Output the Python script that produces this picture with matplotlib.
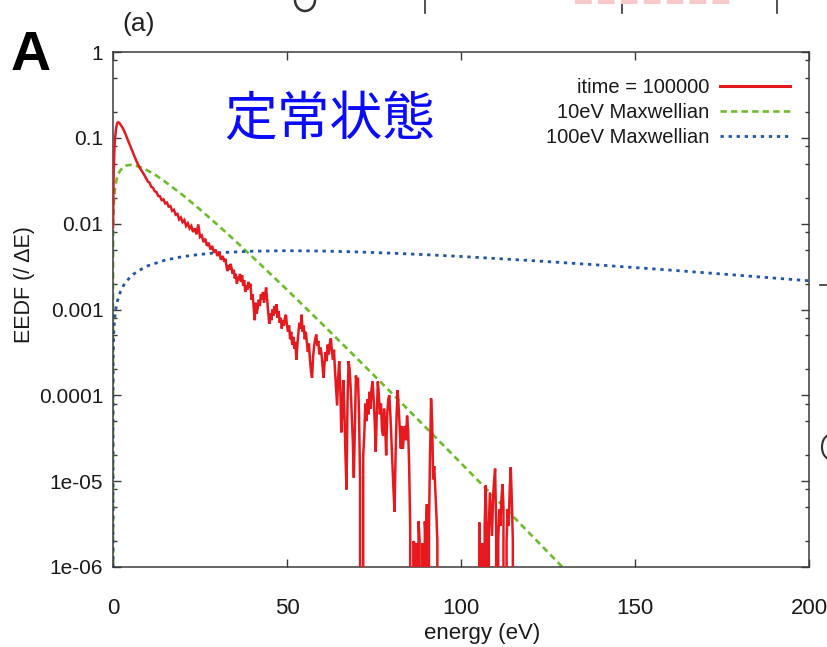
import matplotlib
matplotlib.use("Agg")
import matplotlib.pyplot as plt
from matplotlib.lines import Line2D
from matplotlib.patches import Arc
from matplotlib.ticker import LogLocator, NullFormatter, NullLocator, FixedLocator, FixedFormatter

# ---------------- data ----------------
x_ticks = [0, 50, 100, 150, 200]
x_tick_labels = ["0", "50", "100", "150", "200"]
y_ticks = [1, 0.1, 0.01, 0.001, 0.0001, 1e-05, 1e-06]
y_tick_labels = ["1", "0.1", "0.01", "0.001", "0.0001", "1e-05", "1e-06"]

legend_labels = ["itime = 100000", "10eV Maxwellian", "100eV Maxwellian"]

# simulated EEDF (itime = 100000); 0 = empty bin
red_energy = [
    0.0, 0.2, 0.4, 0.6, 0.9, 1.2, 1.5, 1.9, 2.3, 2.8,
    3.3, 3.8, 4.3, 4.8, 5.3, 5.8, 6.3, 6.8, 7.3, 7.8,
    8.3, 8.8, 9.3, 9.8,
    10.0, 10.5, 11.0, 11.5, 12.0, 12.5, 13.0, 13.5, 14.0, 14.5,
    15.0, 15.5, 16.0, 16.5, 17.0, 17.5, 18.0, 18.5, 19.0, 19.5,
    20.0, 20.5, 21.0, 21.5, 22.0, 22.5, 23.0, 23.5, 24.0, 24.5,
    25.0, 25.5, 26.0, 26.5, 27.0, 27.5, 28.0, 28.5, 29.0, 29.5,
    30.0, 30.5, 31.0, 31.5,
    32.0, 32.3, 32.6, 32.9, 33.2, 33.5, 33.8, 34.1, 34.4, 34.7,
    35.0, 35.3, 35.6, 35.9, 36.2, 36.5, 36.8, 37.1, 37.4, 37.7,
    38.0, 38.3, 38.6, 38.9, 39.2, 39.5, 39.8, 40.1, 40.4, 40.7,
    41.0, 41.3, 41.6, 41.9, 42.2, 42.5, 42.8, 43.1, 43.4, 43.7,
    44.0, 44.3, 44.6, 44.9, 45.2, 45.5, 45.8, 46.1, 46.4, 46.7,
    47.0, 47.3, 47.6, 47.9, 48.2, 48.5, 48.8, 49.1, 49.4, 49.7,
    50.0, 50.3, 50.6, 50.9, 51.2, 51.5, 51.8, 52.1, 52.4, 52.7,
    53.0, 53.3, 53.6, 53.9, 54.2, 54.5, 54.8, 55.1, 55.4, 55.7,
    56.0, 56.3, 56.6, 56.9, 57.2, 57.5, 57.8, 58.1, 58.4, 58.7,
    59.0, 59.3, 59.6, 59.9, 60.2, 60.5, 60.8, 61.1, 61.4, 61.7,
    62.0, 62.3, 62.6, 62.9, 63.2, 63.5, 63.8, 64.1, 64.4, 64.7,
    65.0, 65.3, 65.6, 65.9, 66.2, 66.5, 66.8, 67.1, 67.4, 67.7,
    68.0, 68.3, 68.6, 68.9, 69.2, 69.5, 69.8, 70.1, 70.4, 70.7,
    71.0, 71.3, 71.6, 71.9, 72.2, 72.5, 72.8, 73.1, 73.4, 73.7,
    74.0, 74.3, 74.6, 74.9, 75.2, 75.5, 75.8, 76.1, 76.4, 76.7,
    77.0, 77.3, 77.6, 77.9, 78.2, 78.5, 78.8, 79.1, 79.4, 79.7,
    80.0, 80.3, 80.6, 80.9, 81.2, 81.5, 81.8, 82.1, 82.4, 82.7,
    83.0, 83.3, 83.6, 83.9, 84.2, 84.5, 84.8, 85.1, 85.4, 85.7,
    86.0, 86.3, 86.6, 86.9, 87.2, 87.5, 87.8, 88.1, 88.4, 88.7,
    89.0, 89.3, 89.6, 89.9, 90.2, 90.5, 90.8, 91.1, 91.4, 91.7,
    92.0, 92.3, 92.6, 92.9, 93.2, 93.5,
    100.0, 104.7,
    105.0, 105.3, 105.6, 105.9, 106.2, 106.5, 106.8, 107.1, 107.4, 107.7,
    108.0, 108.3, 108.6, 108.9, 109.2, 109.5, 109.8, 110.1, 110.4, 110.7,
    111.0, 111.3, 111.6, 111.9, 112.2, 112.5, 112.8, 113.1, 113.4, 113.7,
    114.0, 114.3, 114.6, 114.9, 115.2,
]
red_eedf = [
    0.009, 0.04, 0.075, 0.10, 0.13, 0.148, 0.152, 0.148, 0.14, 0.13,
    0.118, 0.105, 0.094, 0.083, 0.074, 0.066, 0.059, 0.053, 0.048, 0.044,
    0.041, 0.038, 0.035, 0.032,
    0.031, 0.030, 0.0268, 0.0262, 0.0238, 0.0233, 0.0210, 0.0208, 0.0188, 0.0192,
    0.0172, 0.0176, 0.0158, 0.0160, 0.0141, 0.0145, 0.0127, 0.0130, 0.0112, 0.0118,
    0.0104, 0.0110, 0.0094, 0.0101, 0.0088, 0.0094, 0.0080, 0.0088, 0.0075, 0.0098,
    0.0070, 0.0073, 0.0061, 0.0067, 0.0055, 0.0060, 0.0050, 0.0055, 0.0046, 0.0050,
    0.0042, 0.0047, 0.0038, 0.0042,
    3.6e-3, 3.9e-3, 3.2e-3, 2.8e-3, 3.3e-3, 2.9e-3, 3.4e-3, 3.0e-3, 2.6e-3, 2.9e-3,
    2.3e-3, 2.6e-3, 2.0e-3, 2.4e-3, 2.2e-3, 2.6e-3, 2.1e-3, 2.5e-3, 1.9e-3, 2.2e-3,
    1.6e-3, 1.9e-3, 1.7e-3, 2.1e-3, 1.8e-3, 2.0e-3, 1.3e-3, 1.5e-3, 1.1e-3, 7.5e-4,
    1.2e-3, 9.0e-4, 1.05e-3, 1.3e-3, 1.1e-3, 1.5e-3, 1.3e-3, 1.6e-3, 1.2e-3, 1.5e-3,
    1.8e-3, 1.3e-3, 9.5e-4, 6.8e-4, 9.0e-4, 7.5e-4, 1.0e-3, 8.5e-4, 1.1e-3, 9.0e-4,
    1.15e-3, 8.0e-4, 9.5e-4, 7.0e-4, 8.0e-4, 6.0e-4, 7.5e-4, 6.5e-4, 8.0e-4, 8.7e-4,
    6.5e-4, 5.5e-4, 6.5e-4, 4.5e-4, 5.5e-4, 3.9e-4, 4.8e-4, 3.5e-4, 4.2e-4, 2.6e-4,
    4.0e-4, 5.5e-4, 7.0e-4, 6.0e-4, 8.7e-4, 5.5e-4, 6.5e-4, 4.5e-4, 5.5e-4, 4.2e-4,
    3.2e-4, 4.0e-4, 2.6e-4, 1.9e-4, 1.6e-4, 2.8e-4, 3.8e-4, 4.5e-4, 5.1e-4, 3.8e-4,
    4.3e-4, 3.0e-4, 3.6e-4, 3.1e-4, 2.2e-4, 1.6e-4, 2.4e-4, 3.2e-4, 2.5e-4, 3.9e-4,
    3.0e-4, 4.0e-4, 4.6e-4, 3.3e-4, 2.6e-4, 3.4e-4, 1.9e-4, 1.2e-4, 7.6e-5, 1.6e-4,
    2.5e-4, 1.3e-4, 3.7e-5, 6.4e-5, 1.5e-4, 6.4e-5, 2.0e-5, 8.0e-6, 9.0e-5, 2.5e-4,
    2.0e-4, 1.2e-4, 6.0e-5, 3.0e-5, 1.1e-5, 4.0e-5, 1.7e-4, 1.3e-4, 1.6e-4, 6.0e-5,
    1.0e-5, 0, 0, 2.0e-5, 3.4e-5, 8.0e-5, 5.0e-5, 9.0e-5, 6.0e-5, 1.1e-4,
    7.0e-5, 1.2e-4, 1.45e-4, 9.0e-5, 5.0e-5, 2.2e-5, 6.0e-5, 1.45e-4, 1.0e-4, 6.0e-5,
    8.0e-5, 4.0e-5, 3.4e-5, 7.0e-5, 4.5e-5, 2.0e-5, 6.0e-5, 9.0e-5, 1.0e-4, 6.0e-5,
    3.0e-5, 1.5e-5, 8.0e-6, 4.4e-6, 2.0e-5, 6.0e-5, 1.15e-4, 7.0e-5, 4.0e-5, 2.4e-5,
    4.4e-5, 2.4e-5, 3.5e-5, 4.4e-5, 3.0e-5, 5.8e-5, 4.0e-5, 1.5e-5, 3.0e-6, 0,
    0, 2.0e-6, 1.9e-6, 0, 1.9e-6, 0, 3.4e-6, 2.0e-6, 0, 0,
    1.9e-6, 0, 3.4e-6, 2.0e-6, 5.4e-6, 0, 3.0e-6, 2.0e-5, 9.2e-5, 5.0e-5,
    1.05e-5, 1.5e-5, 8.0e-6, 4.4e-6, 2.0e-6, 0,
    0, 0,
    0, 3.3e-6, 0, 1.5e-6, 1.9e-6, 0, 3.0e-6, 8.9e-6, 2.0e-6, 0,
    3.0e-6, 7.4e-6, 4.0e-6, 2.3e-6, 6.0e-6, 1.0e-5, 1.4e-5, 3.0e-6, 0, 2.0e-6,
    4.7e-6, 3.0e-6, 6.0e-6, 9.2e-6, 5.0e-6, 0, 0, 2.0e-6, 4.7e-6, 3.0e-6,
    8.0e-6, 1.45e-5, 6.0e-6, 2.0e-6, 0,
]

# 10 eV Maxwellian
green_energy = [0, 0.01, 0.05, 0.1, 0.2, 0.35, 0.5, 0.75, 1, 1.5, 2, 3, 4, 5, 6, 8, 10,
                12.5, 15, 20, 25, 30, 35, 40, 50, 60, 70, 80, 90, 100, 110, 120, 130]
green_eedf = [0, 3.57e-3, 7.94e-3, 1.117e-2, 1.564e-2, 2.04e-2, 2.40e-2, 2.87e-2, 3.23e-2,
              3.76e-2, 4.13e-2, 4.58e-2, 4.78e-2, 4.84e-2, 4.80e-2, 4.53e-2, 4.15e-2,
              3.62e-2, 3.08e-2, 2.16e-2, 1.465e-2, 9.73e-3, 6.38e-3, 4.13e-3, 1.70e-3,
              6.85e-4, 2.72e-4, 1.07e-4, 4.18e-5, 1.62e-5, 6.25e-6, 2.40e-6, 9.2e-7]

# 100 eV Maxwellian
blue_energy = [0, 0.01, 0.05, 0.1, 0.2, 0.35, 0.5, 0.75, 1, 1.5, 2, 3, 4, 5.5, 7, 10, 15,
               20, 25, 30, 40, 50, 60, 70, 80, 90, 100, 120, 140, 160, 180, 200]
blue_eedf = [0, 1.13e-4, 2.52e-4, 3.56e-4, 5.04e-4, 6.65e-4, 7.94e-4, 9.70e-4, 1.117e-3,
             1.361e-3, 1.564e-3, 1.896e-3, 2.168e-3, 2.505e-3, 2.783e-3, 3.229e-3,
             3.763e-3, 4.13e-3, 4.39e-3, 4.58e-3, 4.78e-3, 4.84e-3, 4.80e-3, 4.69e-3,
             4.53e-3, 4.35e-3, 4.15e-3, 3.72e-3, 3.29e-3, 2.88e-3, 2.50e-3, 2.16e-3]

# ---------------- styling ----------------
FONT = ["Liberation Sans", "DejaVu Sans"]
plt.rcParams["font.family"] = FONT
plt.rcParams["axes.unicode_minus"] = False

W, H = 827, 647
fig = plt.figure(figsize=(W / 100, H / 100), dpi=100)
fig.patch.set_facecolor("white")

L, R, T, B = 113, 809, 52, 567
ax = fig.add_axes([L / W, 1 - B / H, (R - L) / W, (B - T) / H])

RED = "#e61a1e"
GREEN = "#6cbd2c"
BLUE = "#2356aa"
TXT = "#1a1a1a"

ax.plot(red_energy, red_eedf, color=RED, lw=1.8, solid_joinstyle="miter", zorder=3)
ax.plot(green_energy, green_eedf, color=GREEN, lw=1.9, linestyle=(0, (2.4, 1.6)), zorder=2)
ax.plot(blue_energy, blue_eedf, color=BLUE, lw=2.0, linestyle=(0, (1.2, 1.7)), zorder=2)

ax.set_yscale("log", nonpositive="clip")
ax.set_xlim(0, 200)
ax.set_ylim(1e-6, 1)

ax.xaxis.set_major_locator(FixedLocator(x_ticks))
ax.xaxis.set_major_formatter(FixedFormatter(x_tick_labels))
ax.xaxis.set_minor_locator(NullLocator())
ax.yaxis.set_major_locator(FixedLocator(y_ticks))
ax.yaxis.set_major_formatter(FixedFormatter(y_tick_labels))
ax.yaxis.set_minor_locator(LogLocator(base=10, subs=(2, 5, 8)))
ax.yaxis.set_minor_formatter(NullFormatter())

SPINE = "#3a3a3a"
for s in ax.spines.values():
    s.set_color(SPINE)
    s.set_linewidth(1.1)
ax.tick_params(which="both", direction="in", top=True, right=True, color=SPINE, width=1.0)
ax.tick_params(which="major", length=6)
ax.tick_params(which="minor", length=3)
ax.tick_params(axis="x", which="major", pad=22, labelsize=16, labelcolor=TXT)
ax.tick_params(axis="y", which="major", pad=7, labelsize=15, labelcolor=TXT)

ax.set_xlabel("energy (eV)", fontsize=16, color=TXT)
ax.xaxis.set_label_coords((482 - L) / (R - L), -(623 - B) / (B - T))
ax.set_ylabel("EEDF (/ ΔE)", fontsize=15.5, color=TXT)
ax.yaxis.set_label_coords(-(L - 25) / (R - L), 1 - (285 - T) / (B - T))
ax.yaxis.label.set_va("center")

handles = [Line2D([], [], color=RED, lw=2.2),
           Line2D([], [], color=GREEN, lw=1.9, linestyle=(0, (2.4, 1.6))),
           Line2D([], [], color=BLUE, lw=2.0, linestyle=(0, (1.2, 1.7)))]
leg = ax.legend(handles, legend_labels, loc="upper right",
                bbox_to_anchor=((790 - L) / (R - L), 1 - (78 - T) / (B - T)),
                frameon=False, markerfirst=False, fontsize=14.5, handlelength=3.5,
                handletextpad=0.5, labelspacing=0.3, borderpad=0, borderaxespad=0)
for t in leg.get_texts():
    t.set_color(TXT)

# blue Japanese annotation
ax.text((330 - L) / (R - L), 1 - (119 - T) / (B - T), "定常状態", transform=ax.transAxes,
        ha="center", va="center", fontsize=38, color="#0a0aff",
        family=["Noto Sans CJK JP", "DejaVu Sans"])

# panel labels
fig.text(31 / W, 1 - 56 / H, "A", ha="center", va="center", fontsize=40,
         fontweight="bold", color="black")
fig.text(139 / W, 1 - 24 / H, "(a)", ha="center", va="center", fontsize=19,
         color="#222222")

# cropped fragments of a neighbouring panel along the top edge
for xp in (425, 622, 777):
    fig.add_artist(Line2D([xp / W, xp / W], [1, 1 - 13 / H], color="#333333", lw=1.2,
                          transform=fig.transFigure))
fig.add_artist(Line2D([575 / W, 735 / W], [1 - 2 / H, 1 - 2 / H], color="#f7c9c9", lw=3,
                      linestyle=(0, (4, 1.5)), transform=fig.transFigure))
fig.add_artist(Arc((305 / W, 1 - 0 / H), 20 / W, 22 / H, theta1=180, theta2=360,
                   color="#333333", lw=1.8, transform=fig.transFigure))
fig.add_artist(Arc((830 / W, 1 - 447 / H), 16 / W, 24 / H, theta1=100, theta2=260,
                   color="#333333", lw=1.5, transform=fig.transFigure))
fig.add_artist(Line2D([820 / W, 826 / W], [1 - 285 / H, 1 - 285 / H], color="#333333",
                      lw=1.2, transform=fig.transFigure))

fig.savefig("out.png", dpi=100, facecolor="white")
